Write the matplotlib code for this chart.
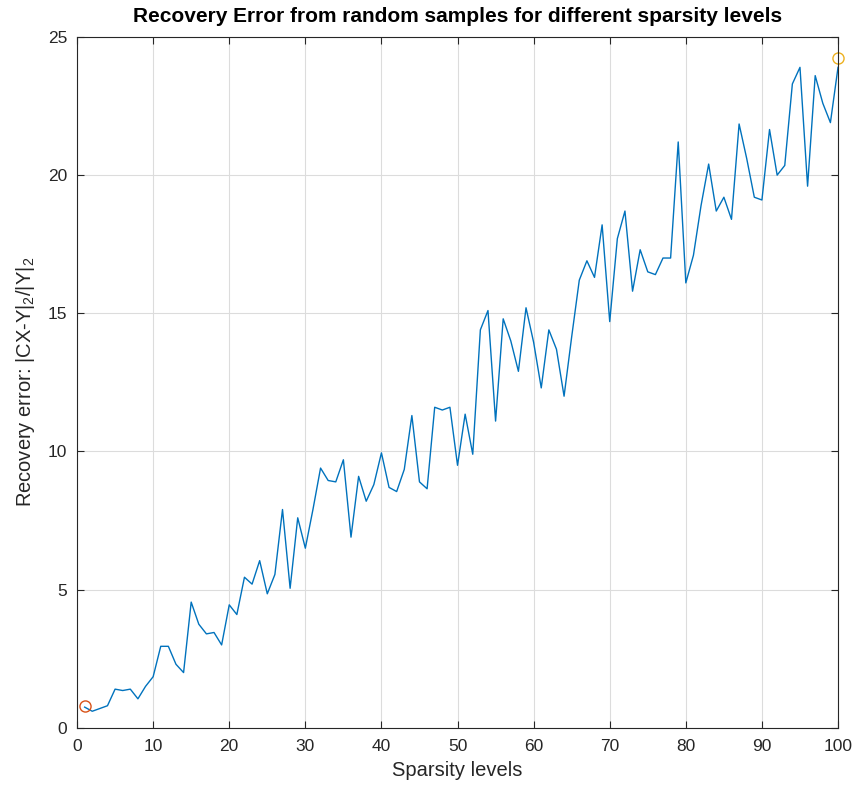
import numpy as np
import matplotlib
matplotlib.use("Agg")
import matplotlib.pyplot as plt

plt.rcParams['font.family'] = ['Liberation Sans', 'DejaVu Sans']
plt.rcParams['mathtext.fontset'] = 'custom'
plt.rcParams['mathtext.rm'] = 'Liberation Sans'

# sparsity levels 1..100 and recovery error
sparsity = list(range(1, 101))
errors = [
    0.75, 0.6, 0.7, 0.8, 1.4, 1.35, 1.4, 1.05, 1.5, 1.85,
    2.95, 2.95, 2.3, 2.0, 4.55, 3.75, 3.4, 3.45, 3.0, 4.45,
    4.1, 5.45, 5.2, 6.05, 4.85, 5.55, 7.9, 5.05, 7.6, 6.5,
    7.9, 9.4, 8.95, 8.9, 9.7, 6.9, 9.1, 8.2, 8.8, 9.95,
    8.7, 8.55, 9.35, 11.3, 8.9, 8.65, 11.6, 11.5, 11.6, 9.5,
    11.35, 9.9, 14.4, 15.1, 11.1, 14.8, 14.0, 12.9, 15.2, 13.95,
    12.3, 14.4, 13.7, 12.0, 14.15, 16.2, 16.9, 16.3, 18.2, 14.7,
    17.7, 18.7, 15.8, 17.3, 16.5, 16.4, 17.0, 17.0, 21.2, 16.1,
    17.1, 18.9, 20.4, 18.7, 19.2, 18.4, 21.85, 20.6, 19.2, 19.1,
    21.65, 20.0, 20.35, 23.3, 23.9, 19.6, 23.6, 22.6, 21.9, 23.9,
]
# highlighted points (first and last)
start_pt = (1, 0.8)
end_pt = (100, 24.25)

fig = plt.figure(figsize=(8.56, 7.86), dpi=100)
ax = fig.add_axes([0.09, 0.074, 0.889, 0.879])

ax.plot(sparsity, errors, color='#0072BD', linewidth=1.0)
ax.plot(*start_pt, 'o', mfc='none', mec='#D95319', ms=8, mew=1.0)
ax.plot(*end_pt, 'o', mfc='none', mec='#EDB120', ms=8, mew=1.0, clip_on=False)

ax.set_xlim(0, 100)
ax.set_ylim(0, 25)
ax.set_xticks(range(0, 101, 10))
ax.set_yticks(range(0, 26, 5))
ax.grid(True, color='#dcdcdc', linewidth=0.8)
ax.set_axisbelow(True)
ax.tick_params(direction='in', top=True, right=True, labelsize=12.5, colors='#262626', length=5)
ax.tick_params(axis='x', pad=8)
ax.tick_params(axis='y', pad=7)
for s in ax.spines.values():
    s.set_color('#262626')
    s.set_linewidth(0.8)

ax.set_xlabel("Sparsity levels", fontsize=14.5, color='#262626', labelpad=5)
ax.set_ylabel(r"Recovery error: |CX-Y|$_2$/|Y|$_2$", fontsize=14.5, color='#262626', labelpad=8)
ax.set_title("Recovery Error from random samples for different sparsity levels",
             fontsize=15, fontweight='bold', pad=11)

fig.savefig("out.png", dpi=100)
